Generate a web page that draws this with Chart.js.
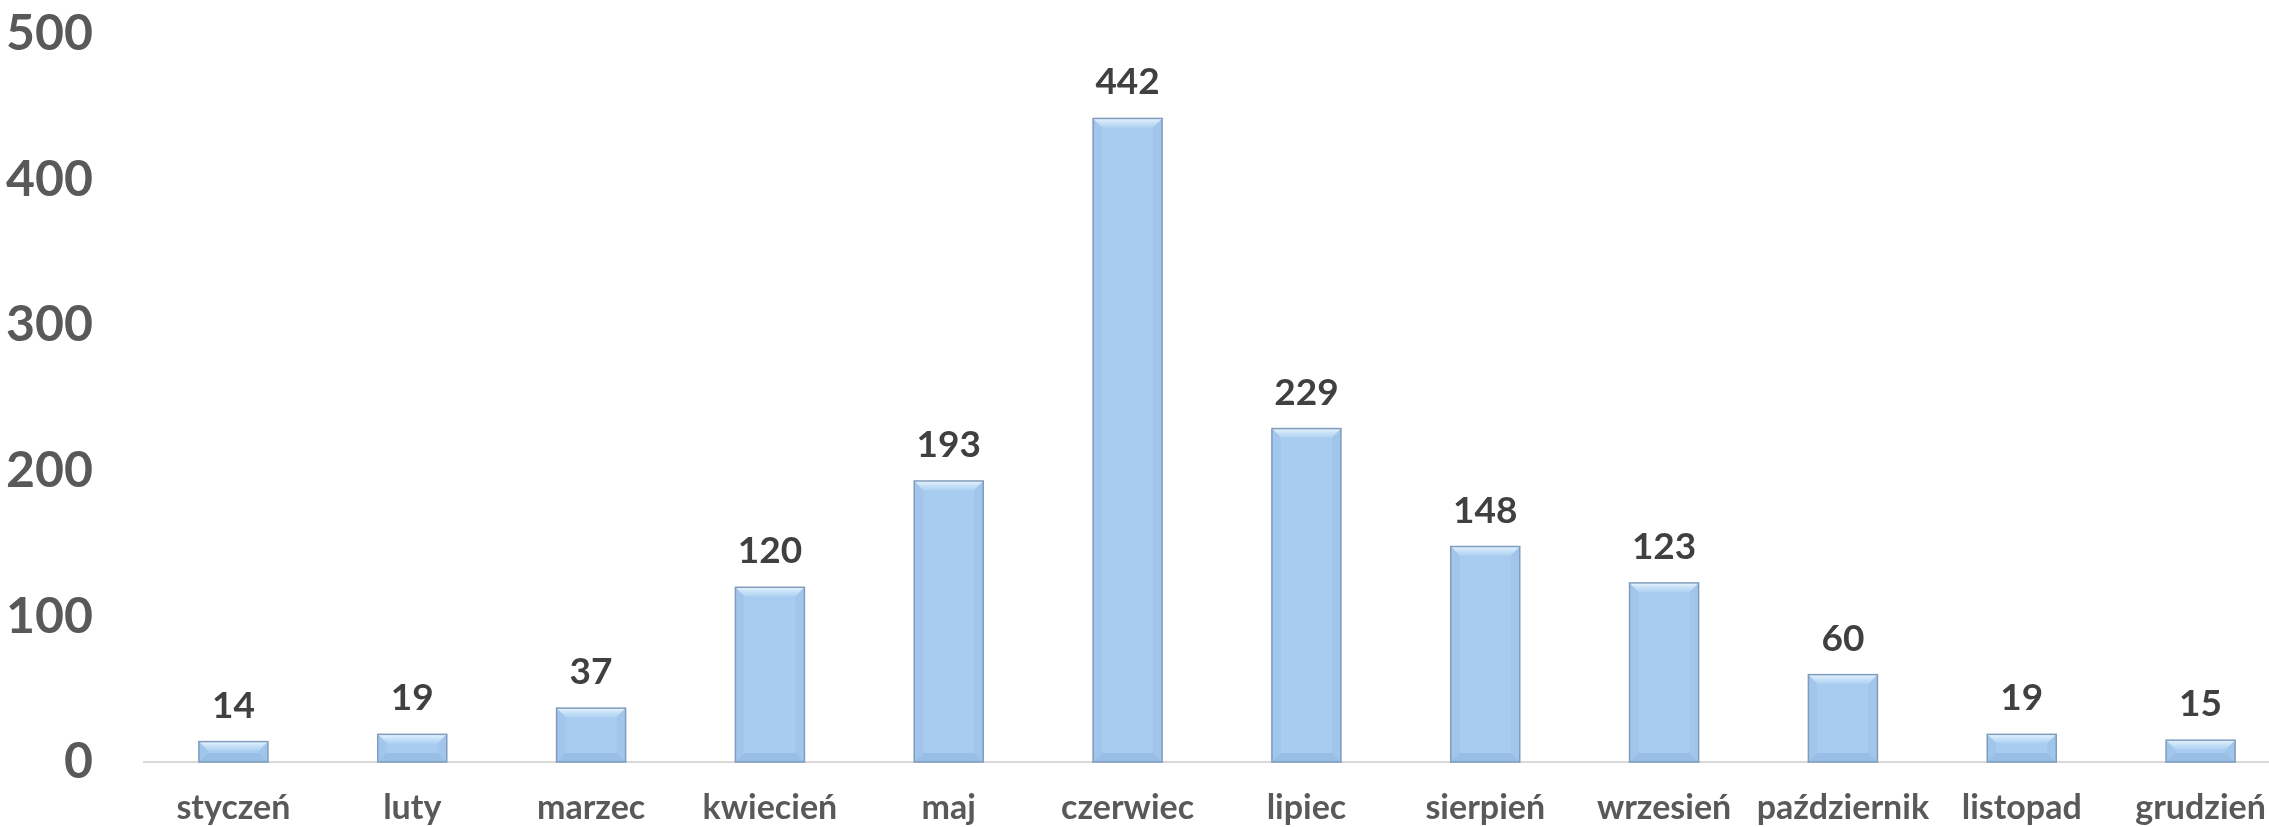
<!DOCTYPE html>
<html>
<head>
<meta charset="utf-8">
<script src="https://cdn.jsdelivr.net/npm/chart.js@4"></script>
<style>
    html, body { margin: 0; padding: 0; background: #fff; overflow: hidden; }
    /* the plot runs a little past the right edge, as in the original */
    #wrap { position: relative; width: 2269px; height: 827px; overflow: hidden; }
    #monthChart { position: absolute; left: 0; top: 0; }
</style>
</head>
<body>
<div id="wrap"><canvas id="monthChart" width="2290" height="827"></canvas></div>
<script>
const months = ["styczeń", "luty", "marzec", "kwiecień", "maj", "czerwiec",
    "lipiec", "sierpień", "wrzesień", "październik", "listopad", "grudzień"];
const counts = [14, 19, 37, 120, 193, 442, 229, 148, 123, 60, 19, 15];
const yTicks = [0, 100, 200, 300, 400, 500];

const FONT = "Lato, 'Open Sans', sans-serif";

// value labels above each bar + a soft bevel on the bars
const barDecor = {
    id: "barDecor",
    afterDatasetsDraw(chart) {
        const ctx = chart.ctx;
        const meta = chart.getDatasetMeta(0);
        ctx.save();
        meta.data.forEach((bar, i) => {
            const { x, y, base, width } = bar.getProps(["x", "y", "base", "width"], true);
            const l = x - width / 2, r = x + width / 2;
            const d = Math.min(9, (base - y) / 2);

            const gTop = ctx.createLinearGradient(0, y, 0, y + d);
            gTop.addColorStop(0, "rgba(240, 250, 255, 0.9)");
            gTop.addColorStop(1, "rgba(200, 228, 250, 0.3)");
            ctx.fillStyle = gTop;
            ctx.beginPath();
            ctx.moveTo(l, y); ctx.lineTo(r, y); ctx.lineTo(r - d, y + d); ctx.lineTo(l + d, y + d);
            ctx.closePath(); ctx.fill();

            ctx.fillStyle = "rgba(120, 160, 205, 0.3)";
            ctx.beginPath();
            ctx.moveTo(l, base); ctx.lineTo(r, base); ctx.lineTo(r - d, base - d); ctx.lineTo(l + d, base - d);
            ctx.closePath(); ctx.fill();

            ctx.fillStyle = "rgba(140, 175, 215, 0.2)";
            ctx.beginPath();
            ctx.moveTo(l, y); ctx.lineTo(l + d, y + d); ctx.lineTo(l + d, base - d); ctx.lineTo(l, base);
            ctx.closePath(); ctx.fill();
            ctx.beginPath();
            ctx.moveTo(r, y); ctx.lineTo(r - d, y + d); ctx.lineTo(r - d, base - d); ctx.lineTo(r, base);
            ctx.closePath(); ctx.fill();

            ctx.strokeStyle = "#7f9cbd";
            ctx.lineWidth = 1.5;
            ctx.strokeRect(l, y, width, base - y);

            ctx.fillStyle = "#404040";
            ctx.font = "bold 37px " + FONT;
            ctx.textAlign = "center";
            ctx.textBaseline = "alphabetic";
            ctx.fillText(counts[i], x, y - 24);
        });
        ctx.restore();
    }
};

new Chart(document.getElementById("monthChart"), {
    type: "bar",
    data: {
        labels: months,
        datasets: [{
            data: counts,
            backgroundColor: "#a8ccf0",
            borderWidth: 0,
            categoryPercentage: 1,
            barPercentage: 0.386
        }]
    },
    options: {
        responsive: false,
        animation: false,
        layout: { padding: { top: 34, left: 0, right: 0, bottom: 0 } },
        plugins: {
            legend: { display: false },
            tooltip: { enabled: false }
        },
        scales: {
            x: {
                grid: { display: false, drawTicks: false },
                border: { display: true, color: "#d9d9d9", width: 2 },
                ticks: {
                    color: "#595959",
                    font: { family: FONT, size: 34, weight: "bold" },
                    padding: 26,
                    maxRotation: 0,
                    autoSkip: false
                },
                afterFit(s) { s.height = 65; s.paddingLeft = 0; s.paddingRight = 0; }
            },
            y: {
                min: 0,
                max: 500,
                afterBuildTicks(s) { s.ticks = yTicks.map(v => ({ value: v })); },
                grid: { display: false, drawTicks: false },
                border: { display: false },
                ticks: {
                    color: "#595959",
                    font: { family: FONT, size: 50, weight: "bold" },
                    padding: 51
                },
                afterFit(s) { s.width = 144; s.paddingTop = 0; s.paddingBottom = 0; }
            }
        }
    },
    plugins: [barDecor]
});
</script>
</body>
</html>
